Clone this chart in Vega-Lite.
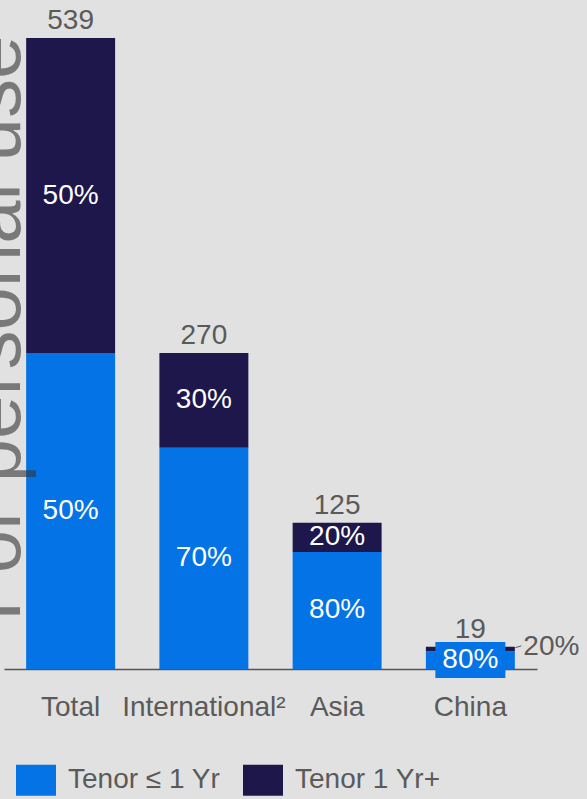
{
  "$schema": "https://vega.github.io/schema/vega-lite/v6.json",
  "autosize": "none",
  "width": 533,
  "height": 631,
  "padding": {"left": 4, "top": 38, "right": 50, "bottom": 130},
  "background": "#e1e1e1",
  "config": {"font": "Liberation Sans", "view": {"stroke": null}},
  "title": {
    "text": "For personal use",
    "orient": "left",
    "anchor": "start",
    "frame": "group",
    "fontSize": 78,
    "fontWeight": "normal",
    "font": "Liberation Sans",
    "color": "rgba(51,51,51,0.6)",
    "offset": -32,
    "dx": 48
  },
  "data": {
    "values": [
      {"region": "Total", "tenor": "Tenor ≤ 1 Yr", "value": 269.5, "pct": "50%", "total": 539, "order": 1},
      {"region": "Total", "tenor": "Tenor 1 Yr+", "value": 269.5, "pct": "50%", "total": 539, "order": 2},
      {"region": "International²", "tenor": "Tenor ≤ 1 Yr", "value": 189, "pct": "70%", "total": 270, "order": 1},
      {"region": "International²", "tenor": "Tenor 1 Yr+", "value": 81, "pct": "30%", "total": 270, "order": 2},
      {"region": "Asia", "tenor": "Tenor ≤ 1 Yr", "value": 100, "pct": "80%", "total": 125, "order": 1},
      {"region": "Asia", "tenor": "Tenor 1 Yr+", "value": 25, "pct": "20%", "total": 125, "order": 2},
      {"region": "China", "tenor": "Tenor ≤ 1 Yr", "value": 15.2, "pct": "80%", "total": 19, "order": 1},
      {"region": "China", "tenor": "Tenor 1 Yr+", "value": 3.8, "pct": "20%", "total": 19, "order": 2}
    ]
  },
  "transform": [
    {"stack": "value", "groupby": ["region"], "sort": [{"field": "order"}], "as": ["v0", "v1"]},
    {"calculate": "(datum.v0 + datum.v1) / 2", "as": "mid"}
  ],
  "encoding": {
    "x": {
      "field": "region",
      "type": "nominal",
      "sort": ["Total", "International²", "Asia", "China"],
      "scale": {"paddingInner": 0.3323, "paddingOuter": 0.1662},
      "axis": {
        "title": null,
        "labelAngle": 0,
        "ticks": false,
        "domainColor": "#555555",
        "domainWidth": 1.5,
        "labelFontSize": 28,
        "labelColor": "#5a5a5a",
        "labelPadding": 24,
        "labelBaseline": "top"
      }
    }
  },
  "layer": [
    {
      "mark": {"type": "bar"},
      "encoding": {
        "y": {"field": "v1", "type": "quantitative", "scale": {"domain": [0, 539], "nice": false}, "axis": null},
        "y2": {"field": "v0"},
        "color": {
          "field": "tenor",
          "type": "nominal",
          "scale": {"domain": ["Tenor ≤ 1 Yr", "Tenor 1 Yr+"], "range": ["#0473e6", "#1d174b"]},
          "legend": {
            "title": null,
            "orient": "none",
            "direction": "horizontal",
            "legendX": 12,
            "legendY": 722,
            "symbolType": "M-1,-0.775H1V0.775H-1Z",
            "symbolSize": 1600,
            "symbolStrokeWidth": 0,
            "symbolOpacity": 1,
            "labelFontSize": 28,
            "labelColor": "#5a5a5a",
            "labelOffset": 12,
            "columnPadding": 22,
            "labelLimit": 400
          }
        }
      }
    },
    {
      "transform": [{"filter": "datum.region === 'China' && datum.order === 1"}],
      "mark": {"type": "point", "shape": "M-1,-0.514H1V0.514H-1Z", "size": 4900, "filled": true, "opacity": 1, "color": "#0473e6", "strokeWidth": 0},
      "encoding": {"y": {"field": "mid", "type": "quantitative"}}
    },
    {
      "transform": [{"filter": "!(datum.region === 'China' && datum.order === 2)"}],
      "mark": {"type": "text", "color": "#ffffff", "fontSize": 28, "baseline": "middle"},
      "encoding": {
        "y": {"field": "mid", "type": "quantitative"},
        "text": {"field": "pct"}
      }
    },
    {
      "transform": [{"filter": "datum.region === 'China' && datum.order === 2"}],
      "mark": {"type": "text", "color": "#5a5a5a", "fontSize": 28, "baseline": "middle", "dx": 81, "dy": -2},
      "encoding": {
        "y": {"field": "mid", "type": "quantitative"},
        "text": {"field": "pct"}
      }
    },
    {
      "transform": [{"filter": "datum.region === 'China' && datum.order === 2"}],
      "mark": {"type": "point", "shape": "M-1,0.3L1,-0.3", "size": 36, "filled": false, "opacity": 1, "color": "#5a5a5a", "strokeWidth": 1, "xOffset": 48},
      "encoding": {"y": {"field": "v1", "type": "quantitative"}}
    },
    {
      "transform": [{"filter": "datum.order === 2"}],
      "mark": {"type": "text", "color": "#5a5a5a", "fontSize": 28, "baseline": "alphabetic", "dy": -9},
      "encoding": {
        "y": {"field": "v1", "type": "quantitative"},
        "text": {"field": "total"}
      }
    }
  ]
}
